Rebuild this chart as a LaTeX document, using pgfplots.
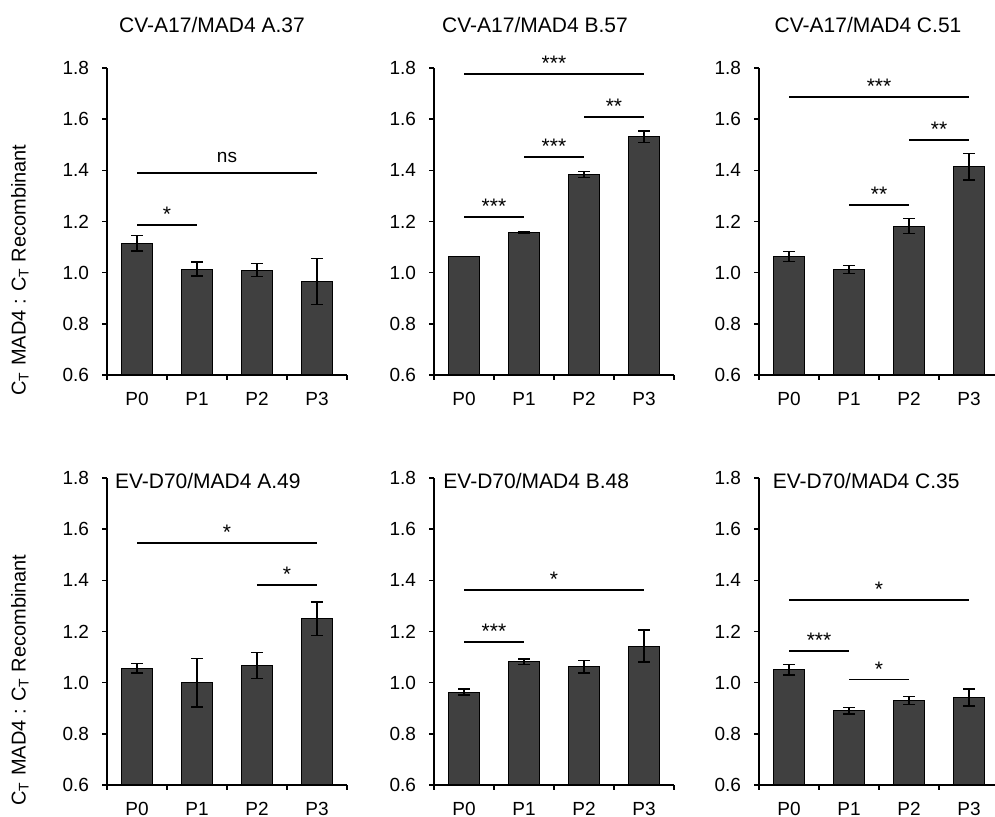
\documentclass[border=0pt]{standalone}
\usepackage{fontspec}
\setmainfont{Liberation Sans}
\usepackage{pgfplots}
\pgfplotsset{compat=1.18}
\definecolor{barc}{HTML}{404040}
\newcommand{\sig}[4]{\draw[line width=0.9pt] (axis cs:#1,#3) -- (axis cs:#2,#3) node[midway, anchor=base, yshift=1.7pt, inner sep=0pt, font=\fontsize{10.5}{12}\selectfont] {#4};}
\newcommand{\signs}[4]{\draw[line width=0.9pt] (axis cs:#1,#3) -- (axis cs:#2,#3) node[midway, anchor=base, yshift=5pt, inner sep=0pt, font=\fontsize{9.5}{12}\selectfont] {#4};}
\pgfplotsset{
  panel/.style={
    scale only axis, width=120pt, height=153.5pt,
    anchor=south west,
    xmin=-0.5, xmax=3.5, ymin=0.6, ymax=1.8,
    axis lines=left, axis line style={-, line width=0.8pt, black},
    clip mode=individual,
    ytick={0.6,0.8,1.0,1.2,1.4,1.6,1.8},
    /pgf/number format/assume math mode=true,
    yticklabel style={/pgf/number format/fixed, /pgf/number format/fixed zerofill, /pgf/number format/precision=1, xshift=-3pt},
    tick label style={font=\fontsize{9.5}{11}\selectfont, black},
    tick align=outside, major tick length=2.5pt,
    tick style={line width=0.8pt, black},
    xtick={-0.5,0.5,1.5,2.5,3.5}, xticklabels={},
    extra x ticks={0,1,2,3}, extra x tick labels={P0,P1,P2,P3},
    extra x tick style={major tick length=0pt, xticklabel style={yshift=-5pt}},
    ybar, bar width=15.5pt,
  },
  bars/.style={fill=barc, draw=black, line width=0.5pt,
    error bars/.cd, y dir=both, y explicit,
    error bar style={line width=0.7pt, black},
    error mark options={rotate=90, mark size=3pt, line width=0.7pt, black}},
}
\begin{document}
\begin{tikzpicture}
\path[use as bounding box] (0,0) rectangle (497.5pt,408.5pt);
% Panel 1
\begin{axis}[panel, at={(53.5pt,221pt)}]
\addplot[bars] coordinates {(0,1.115) +- (0,0.030) (1,1.014) +- (0,0.027) (2,1.010) +- (0,0.025) (3,0.965) +- (0,0.090)};
\sig{0}{1}{1.187}{*}
\signs{0}{3}{1.390}{ns}
\node[font=\fontsize{10.5}{12}\selectfont] at (rel axis cs:0,1) [xshift=52.5pt, yshift=21.5pt] {CV-A17/MAD4 A.37};
\end{axis}
% Panel 2
\begin{axis}[panel, at={(217pt,221pt)}]
\addplot[bars] coordinates {(0,1.062) +- (0,0.0) (1,1.157) +- (0,0.005) (2,1.384) +- (0,0.012) (3,1.531) +- (0,0.023)};
\sig{0}{1}{1.218}{***}
\sig{1}{2}{1.453}{***}
\sig{2}{3}{1.609}{**}
\sig{0}{3}{1.777}{***}
\node[font=\fontsize{10.5}{12}\selectfont] at (rel axis cs:0,1) [xshift=50.5pt, yshift=21.5pt] {CV-A17/MAD4 B.57};
\end{axis}
% Panel 3
\begin{axis}[panel, at={(379.5pt,221pt)}]
\addplot[bars] coordinates {(0,1.063) +- (0,0.020) (1,1.013) +- (0,0.016) (2,1.182) +- (0,0.029) (3,1.414) +- (0,0.052)};
\sig{1}{2}{1.266}{**}
\sig{2}{3}{1.520}{**}
\sig{0}{3}{1.687}{***}
\node[font=\fontsize{10.5}{12}\selectfont] at (rel axis cs:0,1) [xshift=54.5pt, yshift=21.5pt] {CV-A17/MAD4 C.51};
\end{axis}
% Panel 4
\begin{axis}[panel, at={(53.5pt,16pt)}]
\addplot[bars] coordinates {(0,1.057) +- (0,0.019) (1,1.000) +- (0,0.095) (2,1.067) +- (0,0.050) (3,1.250) +- (0,0.065)};
\sig{2}{3}{1.383}{*}
\sig{0}{3}{1.547}{*}
\node[anchor=west, inner sep=0pt, font=\fontsize{10.5}{12}\selectfont] at (rel axis cs:0,1) [xshift=3.8pt, yshift=-1.5pt] {EV-D70/MAD4 A.49};
\end{axis}
% Panel 5
\begin{axis}[panel, at={(217pt,16pt)}]
\addplot[bars] coordinates {(0,0.963) +- (0,0.012) (1,1.082) +- (0,0.010) (2,1.062) +- (0,0.024) (3,1.143) +- (0,0.063)};
\sig{0}{1}{1.159}{***}
\sig{0}{3}{1.362}{*}
\node[anchor=west, inner sep=0pt, font=\fontsize{10.5}{12}\selectfont] at (rel axis cs:0,1) [xshift=4.5pt, yshift=-1.5pt] {EV-D70/MAD4 B.48};
\end{axis}
% Panel 6
\begin{axis}[panel, at={(379.5pt,16pt)}]
\addplot[bars] coordinates {(0,1.050) +- (0,0.020) (1,0.890) +- (0,0.013) (2,0.930) +- (0,0.016) (3,0.942) +- (0,0.033)};
\sig{0}{1}{1.125}{***}
\sig{1}{2}{1.012}{*}
\sig{0}{3}{1.322}{*}
\node[anchor=west, inner sep=0pt, font=\fontsize{10.5}{12}\selectfont] at (rel axis cs:0,1) [xshift=6.7pt, yshift=-1.5pt] {EV-D70/MAD4 C.35};
\end{axis}
% y labels
\node[rotate=90, font=\fontsize{10}{12}\selectfont] at (10pt,273.5pt) {C\textsubscript{T} MAD4 : C\textsubscript{T} Recombinant};
\node[rotate=90, font=\fontsize{10}{12}\selectfont] at (10pt,68.5pt) {C\textsubscript{T} MAD4 : C\textsubscript{T} Recombinant};
\end{tikzpicture}
\end{document}
